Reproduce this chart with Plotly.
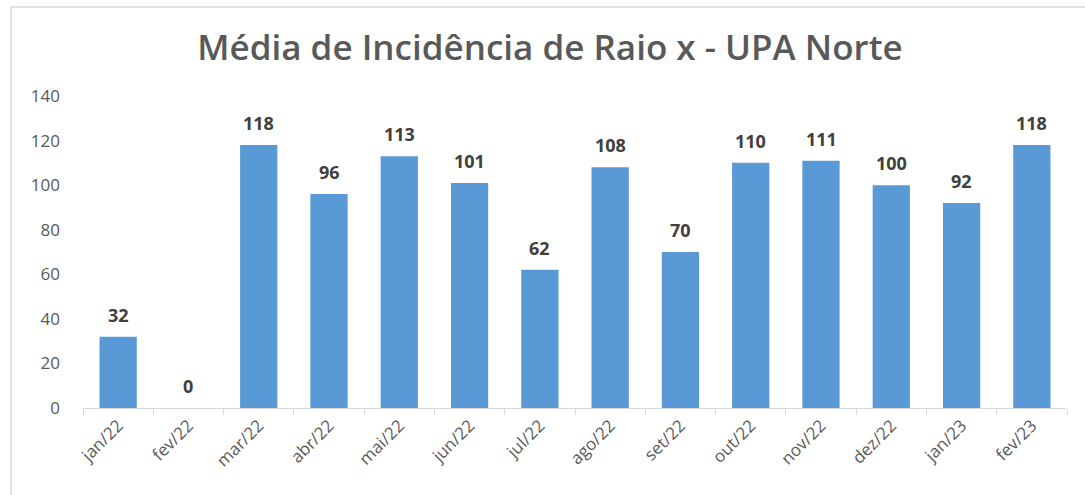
import plotly.graph_objects as go

categories = ["jan/22", "fev/22", "mar/22", "abr/22", "mai/22", "jun/22", "jul/22",
              "ago/22", "set/22", "out/22", "nov/22", "dez/22", "jan/23", "fev/23"]
values = [32, 0, 118, 96, 113, 101, 62, 108, 70, 110, 111, 100, 92, 118]
y_ticks = [0, 20, 40, 60, 80, 100, 120, 140]
title_text = "Média de Incidência de Raio x - UPA Norte"

W, H = 1085, 495
L, R, T, B = 83, 18, 96, 87

fig = go.Figure()
fig.add_trace(go.Bar(
    x=categories, y=values,
    marker=dict(color="#5899d6", line=dict(width=0)),
    hoverinfo="x+y",
))

annotations = [
    dict(x=c, y=v, xref="x", yref="y", text=f"<b>{v}</b>", showarrow=False,
         yshift=22, font=dict(family="Open Sans", size=18, color="#404040"))
    for c, v in zip(categories, values)
]

pw = W - L - R
ph = H - T - B
fig.update_layout(
    width=W, height=H,
    margin=dict(l=L, r=R, t=T, b=B, autoexpand=False),
    paper_bgcolor="white", plot_bgcolor="white",
    showlegend=False,
    bargap=0.47,
    title=dict(text=title_text, x=550 / W, xref="container", xanchor="center",
               y=1 - 48 / H, yanchor="middle", automargin=False,
               font=dict(family="Open Sans", size=35, color="#595959", weight=600)),
    xaxis=dict(
        type="category", tickson="boundaries", ticks="outside", ticklen=6,
        tickcolor="#d9d9d9", showline=True, linecolor="#d9d9d9", linewidth=1,
        showgrid=False, tickangle=-45, automargin=False,
        tickfont=dict(family="Open Sans", size=17, color="#595959"),
    ),
    yaxis=dict(
        range=[0, 140], tickvals=y_ticks, showgrid=False, zeroline=False,
        showline=False, ticks="", ticklabelstandoff=22, automargin=False,
        tickfont=dict(family="Open Sans", size=17, color="#595959"),
    ),
    annotations=annotations,
    shapes=[dict(type="rect", xref="paper", yref="paper",
                 x0=(11 - L) / pw, x1=(W + 20 - L) / pw,
                 y0=-(H + 20 - (H - B)) / ph, y1=(H - B - 7) / ph,
                 line=dict(color="#d9d9d9", width=1.5), layer="below")],
)

fig.write_html("out.html", config={"displayModeBar": False},
               post_script="document.body.style.margin='0';")
